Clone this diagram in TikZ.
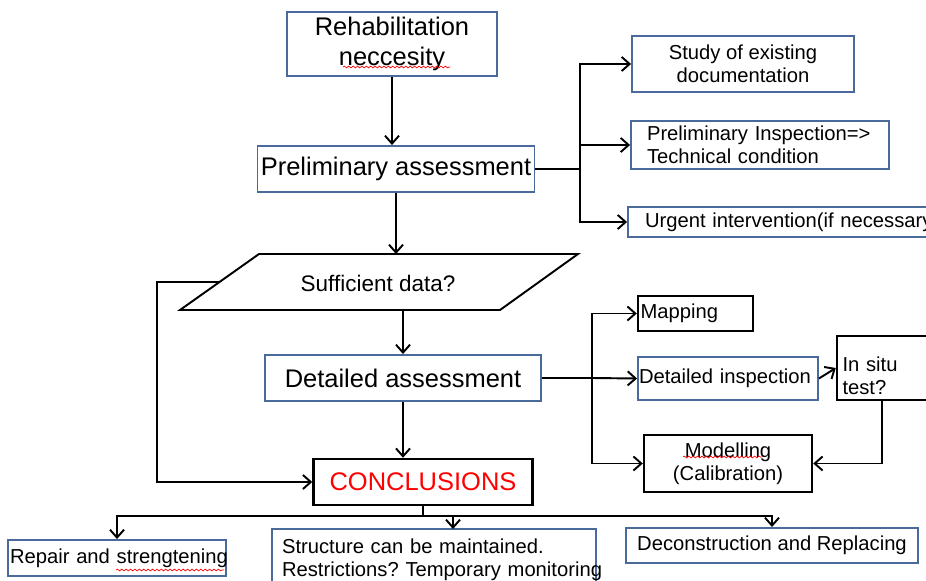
\documentclass[tikz,border=0pt]{standalone}
\usepackage{fontspec}
\setmainfont{Liberation Sans}
\usetikzlibrary{arrows.meta}
\usetikzlibrary{calc}
\usetikzlibrary{decorations.pathmorphing}

\definecolor{boxblue}{RGB}{74,106,155}

\tikzset{
  blubox/.style={draw=boxblue, line width=1.1pt, inner sep=0pt, align=center},
  blkbox/.style={draw=black, line width=1.4pt, inner sep=0pt, align=center},
  bigtext/.style={font=\fontsize{14.5}{17}\selectfont},
  midtext/.style={font=\fontsize{12.8}{15}\selectfont},
  smalltext/.style={font=\fontsize{11.5}{13}\selectfont},
  flow/.style={-{Straight Barb[length=4.5pt,width=8pt]}, line width=1.1pt},
  link/.style={line width=1.1pt},
  squig/.style={red, line width=0.4pt, decorate,
    decoration={snake, amplitude=0.5pt, segment length=2.5pt}}
}

\begin{document}
\frenchspacing
\begin{tikzpicture}[x=0.02cm, y=-0.02cm]
  \useasboundingbox (0,0) rectangle (926,581);
  \clip (0,0) rectangle (926,581);

  % main column
  \node [blubox, bigtext, minimum width=4.2cm, minimum height=1.28cm] (rehab) at (392,44) {Rehabilitation\\neccesity};
  \node [blubox, bigtext, minimum width=5.54cm, minimum height=0.92cm] (prelim) at (396,169) {Preliminary assessment};
  \coordinate (s1) at (259,254);
  \coordinate (s2) at (578,254);
  \coordinate (s3) at (500,310);
  \coordinate (s4) at (180,310);
  \coordinate (sfb) at (219.5,282);
  \draw [link] (s1) -- (s2) -- (s3) -- (s4) -- cycle;
  \node [midtext] (suff) at (378,283) {Sufficient data?};
  \node [blubox, bigtext, minimum width=5.52cm, minimum height=0.92cm] (detail) at (403,378) {Detailed assessment};
  \node [blkbox, bigtext, text=red, minimum width=4.38cm, minimum height=0.92cm] (concl) at (423,482) {CONCLUSIONS};

  % preliminary branch
  \node [blubox, smalltext, minimum width=4.44cm, minimum height=1.12cm] (study) at (743,64) {Study of existing\\documentation};
  \node [blubox, smalltext, align=left, text width=4.52cm, inner xsep=0.32cm, minimum height=0.96cm] (insp) at (760,145) {Preliminary Inspection=>\\Technical condition};
  \node [blubox, smalltext, align=left, text width=5.76cm, inner xsep=0.34cm, minimum height=0.6cm] (urgent) at (789,222) {\mbox{Urgent intervention(if necessary)}};

  % detailed branch
  \node [blkbox, smalltext, align=left, text width=2.2cm, inner xsep=0.05cm, minimum height=0.7cm] (mapping) at (695.5,313.5) {Mapping};
  \node [blubox, smalltext, align=left, text width=3.56cm, inner xsep=0.02cm, minimum height=0.86cm] (detinsp) at (728,378.5) {Detailed inspection};
  \node [blkbox, smalltext, align=left, text width=1.9cm, inner xsep=0.11cm, minimum height=1.28cm] (insitu) at (890,368) {\rule{0pt}{17pt}In situ\\test?};
  \node [blkbox, smalltext, minimum width=3.36cm, minimum height=1.14cm] (model) at (728,463.5) {Modelling\\(Calibration)};

  % outcomes
  \node [blubox, smalltext, align=left, text width=4.28cm, inner xsep=0.04cm, minimum height=0.72cm] (repair) at (117,558) {\mbox{Repair and strengtening}};
  \node [blubox, smalltext, align=left, text width=6.08cm, inner xsep=0.2cm, minimum height=1.24cm] (struct) at (434,560) {\mbox{Structure can be maintained.}\\\mbox{Restrictions? Temporary monitoring}};
  \node [blubox, smalltext, minimum width=5.84cm, minimum height=0.7cm] (decon) at (772,545.5) {Deconstruction and Replacing};

  \coordinate (pbus) at (580,169);
  \coordinate (dbus) at (592,378);
  \coordinate (loop) at (157,282);
  \coordinate (isdrop) at (882,400);
  \coordinate (cbus) at (423,516);
  \coordinate (sdrop) at (453,529);

  \draw [flow] (rehab.south) -- (rehab.south |- prelim.north);
  \draw [flow] (prelim.south) -- (prelim.south |- s1);
  \draw [flow] (detail.north |- s3) -- (detail.north);
  \draw [flow] (detail.south) -- (detail.south |- concl.north);
  \draw [flow] (sfb) -- (loop) |- (concl.west);

  \draw [link] (prelim.east) -- (pbus);
  \draw [flow] (pbus) |- (study.west);
  \draw [flow] (pbus) |- (insp.west);
  \draw [flow] (pbus) |- (urgent.west);

  \draw [link] (detail.east) -- (dbus);
  \draw [flow] (dbus) |- (mapping.west);
  \draw [flow] (dbus) -- (detinsp.west);
  \draw [flow] (dbus) |- (model.west);
  \draw [flow] (detinsp.east) -- (insitu.west);
  \draw [flow] (isdrop) |- (model.east);

  \draw [link] (concl.south) -- (cbus);
  \draw [flow] (cbus) -| (repair.north);
  \draw [flow] (cbus) -| (sdrop);
  \draw [flow] (cbus) -| (decon.north);

  % spell-check marks
  \draw [squig] (343,67) -- (450,67);
  \draw [squig] (116,570) -- (224,570);
  \draw [squig] (683,457) -- (762,457);
\end{tikzpicture}
\end{document}
